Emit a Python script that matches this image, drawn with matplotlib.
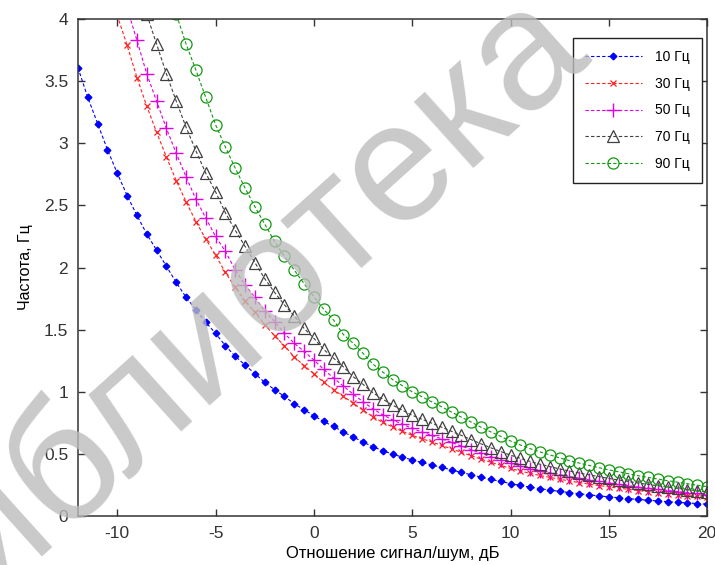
import matplotlib
matplotlib.use("Agg")
import matplotlib.pyplot as plt
import numpy as np

plt.rcParams['font.family'] = ['Liberation Sans', 'DejaVu Sans']
plt.rcParams['axes.unicode_minus'] = False

# отношение сигнал/шум, дБ (шаг 0.5 дБ)
snr = np.linspace(-12, 20, 65)

f10 = [3.61, 3.37, 3.16, 2.95, 2.76, 2.58, 2.42, 2.27, 2.14, 2.01,
       1.88, 1.76, 1.66, 1.56, 1.47, 1.37, 1.285, 1.215, 1.145, 1.075,
       1.016, 0.962, 0.903, 0.855, 0.806, 0.76, 0.72, 0.675, 0.635, 0.595,
       0.556, 0.525, 0.497, 0.473, 0.45, 0.43, 0.41, 0.39, 0.37, 0.35,
       0.331, 0.312, 0.294, 0.277, 0.26, 0.245, 0.231, 0.219, 0.208, 0.197,
       0.187, 0.178, 0.169, 0.161, 0.153, 0.146, 0.139, 0.132, 0.126, 0.12,
       0.114, 0.109, 0.104, 0.099, 0.094]

f30 = [5.34, 4.99, 4.65, 4.34, 4.03, 3.79, 3.53, 3.30, 3.09, 2.89,
       2.70, 2.53, 2.37, 2.23, 2.10, 1.96, 1.84, 1.73, 1.64, 1.54,
       1.45, 1.37, 1.28, 1.21, 1.145, 1.075, 1.016, 0.962, 0.909, 0.851,
       0.798, 0.753, 0.716, 0.681, 0.648, 0.621, 0.595, 0.567, 0.540, 0.511,
       0.485, 0.457, 0.432, 0.407, 0.382, 0.361, 0.342, 0.325, 0.310, 0.295,
       0.281, 0.268, 0.255, 0.244, 0.233, 0.223, 0.213, 0.203, 0.195, 0.187,
       0.178, 0.171, 0.163, 0.156, 0.149]

f50 = [5.78, 5.39, 5.02, 4.69, 4.39, 4.09, 3.83, 3.56, 3.34, 3.12,
       2.92, 2.73, 2.55, 2.40, 2.25, 2.13, 1.98, 1.86, 1.76, 1.65,
       1.565, 1.47, 1.39, 1.325, 1.255, 1.18, 1.11, 1.045, 0.98, 0.919,
       0.862, 0.814, 0.773, 0.738, 0.704, 0.675, 0.648, 0.620, 0.592, 0.562,
       0.533, 0.504, 0.476, 0.450, 0.424, 0.402, 0.381, 0.364, 0.347, 0.331,
       0.316, 0.303, 0.289, 0.277, 0.265, 0.254, 0.243, 0.232, 0.223, 0.214,
       0.204, 0.196, 0.188, 0.180, 0.171]

f70 = [6.50, 6.07, 5.66, 5.28, 4.94, 4.61, 4.31, 4.04, 3.80, 3.56,
       3.34, 3.13, 2.94, 2.76, 2.61, 2.44, 2.30, 2.17, 2.04, 1.91,
       1.80, 1.70, 1.61, 1.51, 1.43, 1.34, 1.27, 1.20, 1.12, 1.059,
       0.992, 0.940, 0.892, 0.851, 0.81, 0.778, 0.746, 0.714, 0.681, 0.648,
       0.614, 0.580, 0.548, 0.518, 0.489, 0.463, 0.438, 0.416, 0.397, 0.378,
       0.361, 0.345, 0.330, 0.316, 0.301, 0.289, 0.277, 0.264, 0.253, 0.242,
       0.231, 0.222, 0.212, 0.202, 0.193]

f90 = [7.76, 7.25, 6.79, 6.34, 5.93, 5.55, 5.20, 4.88, 4.60, 4.32,
       4.04, 3.80, 3.59, 3.37, 3.15, 2.97, 2.80, 2.64, 2.49, 2.35,
       2.21, 2.09, 1.98, 1.87, 1.765, 1.664, 1.577, 1.46, 1.39, 1.309,
       1.223, 1.158, 1.098, 1.048, 0.999, 0.959, 0.918, 0.878, 0.836, 0.795,
       0.755, 0.714, 0.676, 0.640, 0.603, 0.571, 0.541, 0.515, 0.491, 0.467,
       0.445, 0.425, 0.406, 0.388, 0.370, 0.355, 0.339, 0.323, 0.310, 0.296,
       0.283, 0.271, 0.259, 0.247, 0.235]

labels = ['10 Гц', '30 Гц', '50 Гц', '70 Гц', '90 Гц']

fig = plt.figure(figsize=(7.15, 5.65), dpi=100)
ax = fig.add_axes([0.109, 0.087, 0.88, 0.879])

dash = (3, 2)
ax.plot(snr, f10, color='#0000ff', ls='--', dashes=dash, lw=0.8, marker='D', ms=3.4,
        mec='#0000ff', mfc='#0000ff', label=labels[0])
ax.plot(snr, f30, color='#ff2020', ls='--', dashes=dash, lw=0.8, marker='x', ms=5,
        mew=0.9, label=labels[1])
ax.plot(snr, f50, color='#e000e0', ls='--', dashes=dash, lw=0.8, marker='+', ms=10,
        mew=1.0, label=labels[2])
ax.plot(snr, f70, color='#404040', ls='--', dashes=dash, lw=0.8, marker='^', ms=8,
        mfc='none', mew=0.9, label=labels[3])
ax.plot(snr, f90, color='#119911', ls='--', dashes=dash, lw=0.8, marker='o', ms=8,
        mfc='none', mew=0.9, label=labels[4])

ax.set_xlim(-12, 20)
ax.set_ylim(0, 4)
ax.set_xticks([-10, -5, 0, 5, 10, 15, 20])
ax.set_yticks(np.arange(0, 4.01, 0.5))
ax.set_yticklabels(['0', '0.5', '1', '1.5', '2', '2.5', '3', '3.5', '4'])
ax.tick_params(direction='in', length=5, width=1, labelsize=12.5, colors='#333333',
               top=True, right=True, pad=7)
for s in ax.spines.values():
    s.set_color('#333333')
    s.set_linewidth(1.1)

ax.set_xlabel('Отношение сигнал/шум, дБ', fontsize=12, labelpad=4)
ax.set_ylabel('Частота, Гц', fontsize=11.5, labelpad=8)

leg = ax.legend(loc='upper right', bbox_to_anchor=(0.992, 0.962), borderaxespad=0,
                fontsize=10, handlelength=4.1, labelspacing=0.92, borderpad=0.85,
                handletextpad=1.0, fancybox=False, framealpha=1, numpoints=1)
leg.get_frame().set_edgecolor('#222222')
leg.get_frame().set_linewidth(1.0)

# водяной знак
fig.text(225 / 715, 1 - 325 / 565, 'библиотека', rotation=42, rotation_mode='anchor',
         ha='center', va='center', fontsize=122, color='#bcbcbc', alpha=0.8, zorder=5)

fig.savefig('out.png', dpi=100)
